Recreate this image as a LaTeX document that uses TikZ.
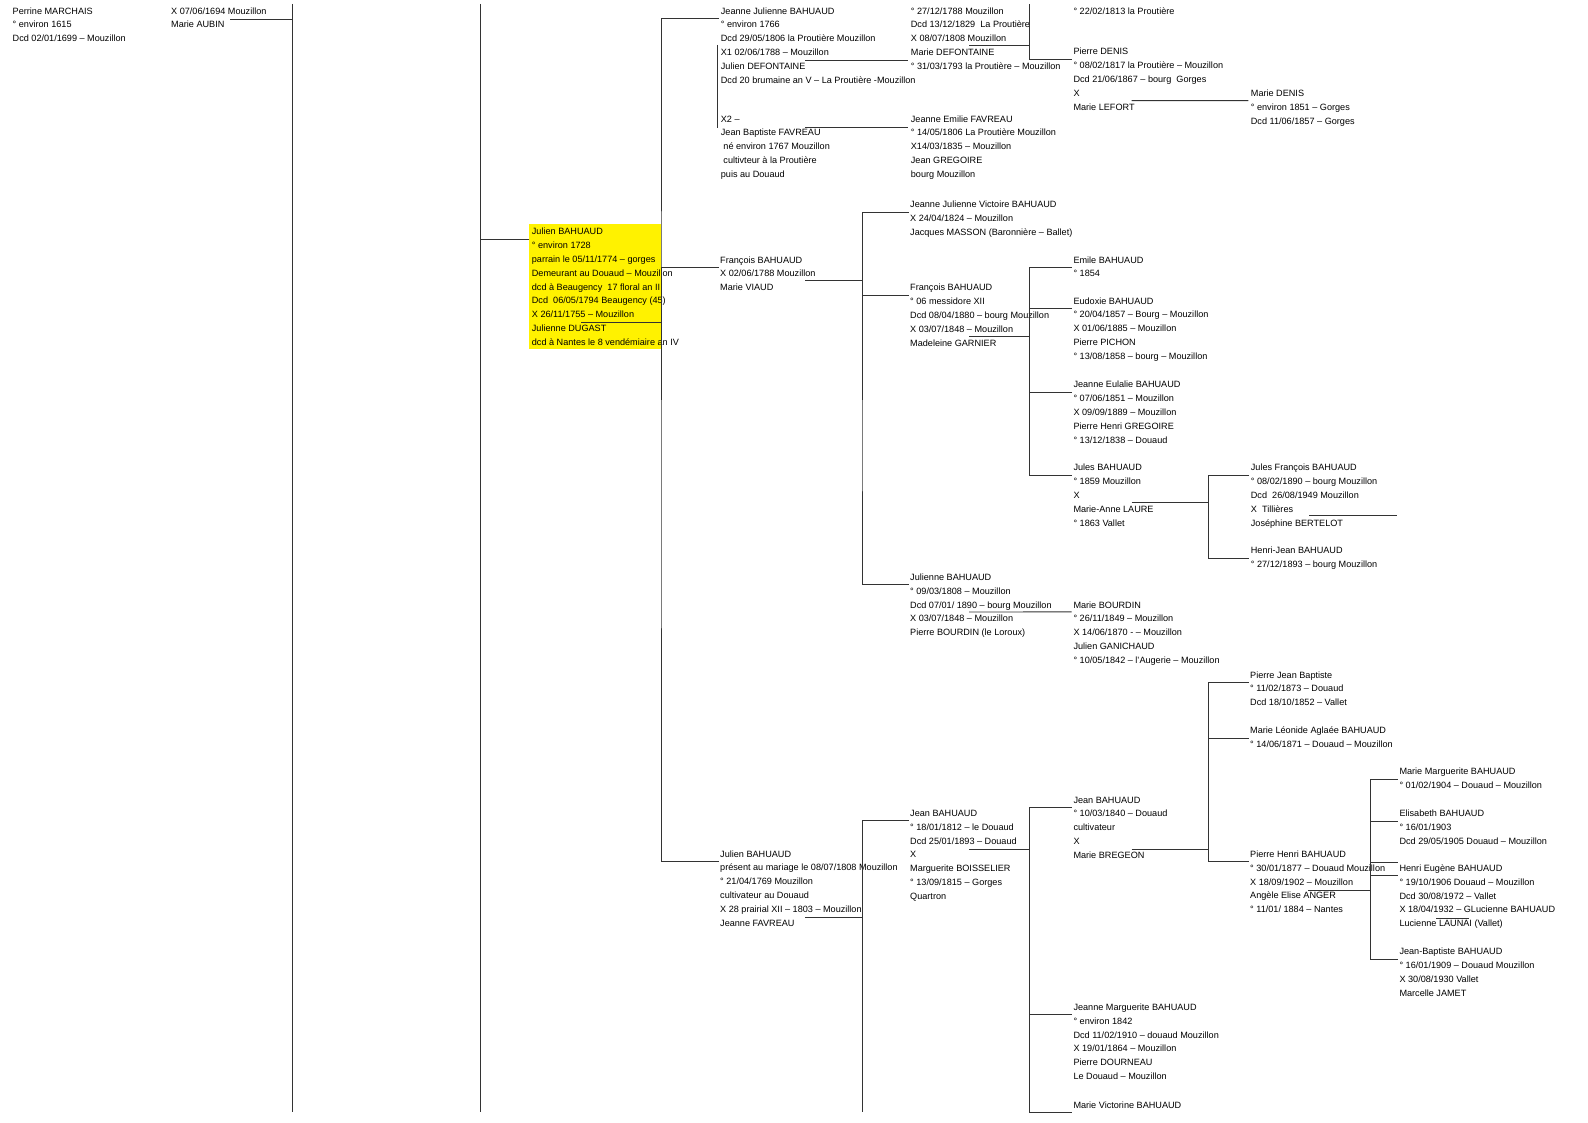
\documentclass[tikz,border=0pt]{standalone}
\usepackage{fontspec}
\setmainfont{Liberation Sans}
\definecolor{hiyellow}{RGB}{255,242,0}

\begin{document}
\begin{tikzpicture}[x=1pt, y=-1pt,
  person/.style={anchor=north west, align=left, inner sep=0pt, font=\fontsize{9.12}{13.8}\selectfont},
  link/.style={draw=black!80, line width=0.9pt}]
  \fill[white] (0,0) rectangle (1588,1123);
  \useasboundingbox (0,0) rectangle (1588,1123);
  \fill[hiyellow] (529.3,224) rectangle (661,349.3);

  \node[person] (perrine) at (12.5,4.3) {\strut Perrine MARCHAIS\\° environ 1615\\Dcd 02/01/1699 – Mouzillon};
  \node[person] (aubin) at (171,4.3) {\strut X 07/06/1694 Mouzillon\\Marie AUBIN};
  \node[person] (julienB) at (531.7,225) {\strut Julien BAHUAUD\\° environ 1728\\parrain le 05/11/1774 – gorges\\Demeurant au Douaud – Mouzillon\\dcd à Beaugency\ \ 17 floral an II\\Dcd\ \ 06/05/1794 Beaugency (45)\\X 26/11/1755 – Mouzillon\\Julienne DUGAST\\dcd à Nantes le 8 vendémiaire an IV};
  \node[person] (jeanneJ) at (720.7,4.3) {\strut Jeanne Julienne BAHUAUD\\° environ 1766\\Dcd 29/05/1806 la Proutière Mouzillon\\X1 02/06/1788 – Mouzillon\\Julien DEFONTAINE\\Dcd 20 brumaine an V – La Proutière -Mouzillon};
  \node[person] (favreauJB) at (720.7,112.3) {\strut X2 –\\Jean Baptiste FAVREAU\\\ né environ 1767 Mouzillon\\\ cultivteur à la Proutière\\puis au Douaud};
  \node[person] (defont) at (910.7,4.3) {\strut ° 27/12/1788 Mouzillon\\Dcd 13/12/1829\ \ La Proutière\\X 08/07/1808 Mouzillon\\Marie DEFONTAINE\\° 31/03/1793 la Proutière – Mouzillon};
  \node[person] (emilie) at (910.7,112.3) {\strut Jeanne Emilie FAVREAU\\° 14/05/1806 La Proutière Mouzillon\\X14/03/1835 – Mouzillon\\Jean GREGOIRE\\bourg Mouzillon};
  \node[person] (prout) at (1073.3,4.3) {\strut ° 22/02/1813 la Proutière};
  \node[person] (pdenis) at (1073.3,45) {\strut Pierre DENIS\\° 08/02/1817 la Proutière – Mouzillon\\Dcd 21/06/1867 – bourg\ \ Gorges\\X\\Marie LEFORT};
  \node[person] (mdenis) at (1250.7,86.6) {\strut Marie DENIS\\° environ 1851 – Gorges\\Dcd 11/06/1857 – Gorges};
  \node[person] (francois1) at (720,253.3) {\strut François BAHUAUD\\X 02/06/1788 Mouzillon\\Marie VIAUD};
  \node[person] (victoire) at (910,198) {\strut Jeanne Julienne Victoire BAHUAUD\\X 24/04/1824 – Mouzillon\\Jacques MASSON (Baronnière – Ballet)};
  \node[person] (francois2) at (910,281) {\strut François BAHUAUD\\° 06 messidore XII\\Dcd 08/04/1880 – bourg Mouzillon\\X 03/07/1848 – Mouzillon\\Madeleine GARNIER};
  \node[person] (emile) at (1073.3,253.3) {\strut Emile BAHUAUD\\° 1854};
  \node[person] (eudoxie) at (1073.3,294.3) {\strut Eudoxie BAHUAUD\\° 20/04/1857 – Bourg – Mouzillon\\X 01/06/1885 – Mouzillon\\Pierre PICHON\\° 13/08/1858 – bourg – Mouzillon};
  \node[person] (eulalie) at (1073.3,378) {\strut Jeanne Eulalie BAHUAUD\\° 07/06/1851 – Mouzillon\\X 09/09/1889 – Mouzillon\\Pierre Henri GREGOIRE\\° 13/12/1838 – Douaud};
  \node[person] (jules) at (1073.3,461) {\strut Jules BAHUAUD\\° 1859 Mouzillon\\X\\Marie-Anne LAURE\\° 1863 Vallet};
  \node[person] (julesF) at (1250.7,461) {\strut Jules François BAHUAUD\\° 08/02/1890 – bourg Mouzillon\\Dcd\ \ 26/08/1949 Mouzillon\\X\ \ Tillières\\Joséphine BERTELOT};
  \node[person] (henriJ) at (1250.7,544) {\strut Henri-Jean BAHUAUD\\° 27/12/1893 – bourg Mouzillon};
  \node[person] (julienne) at (910,570.6) {\strut Julienne BAHUAUD\\° 09/03/1808 – Mouzillon\\Dcd 07/01/ 1890 – bourg Mouzillon\\X 03/07/1848 – Mouzillon\\Pierre BOURDIN (le Loroux)};
  \node[person] (mbourdin) at (1073.3,598.3) {\strut Marie BOURDIN\\° 26/11/1849 – Mouzillon\\X 14/06/1870 - – Mouzillon\\Julien GANICHAUD\\° 10/05/1842 – l'Augerie – Mouzillon};
  \node[person] (pjb) at (1250,668.3) {\strut Pierre Jean Baptiste\\° 11/02/1873 – Douaud\\Dcd 18/10/1852 – Vallet};
  \node[person] (leonide) at (1250,724) {\strut Marie Léonide Aglaée BAHUAUD\\° 14/06/1871 – Douaud – Mouzillon};
  \node[person] (pierreH) at (1250,847.6) {\strut Pierre Henri BAHUAUD\\° 30/01/1877 – Douaud Mouzillon\\X 18/09/1902 – Mouzillon\\Angèle Elise ANGER\\° 11/01/ 1884 – Nantes};
  \node[person] (margM) at (1399.3,765) {\strut Marie Marguerite BAHUAUD\\° 01/02/1904 – Douaud – Mouzillon};
  \node[person] (elisabeth) at (1399.3,807) {\strut Elisabeth BAHUAUD\\° 16/01/1903\\Dcd 29/05/1905 Douaud – Mouzillon};
  \node[person] (henriE) at (1399.3,861.6) {\strut Henri Eugène BAHUAUD\\° 19/10/1906 Douaud – Mouzillon\\Dcd 30/08/1972 – Vallet\\X 18/04/1932 – GLucienne BAHUAUD\\Lucienne LAUNAI (Vallet)};
  \node[person] (jeanB) at (1399.3,945) {\strut Jean-Baptiste BAHUAUD\\° 16/01/1909 – Douaud Mouzillon\\X 30/08/1930 Vallet\\Marcelle JAMET};
  \node[person] (julien1769) at (720,847.3) {\strut Julien BAHUAUD\\présent au mariage le 08/07/1808 Mouzillon\\° 21/04/1769 Mouzillon\\cultivateur au Douaud\\X 28 prairial XII – 1803 – Mouzillon\\Jeanne FAVREAU};
  \node[person] (jean1812) at (910,806.6) {\strut Jean BAHUAUD\\° 18/01/1812 – le Douaud\\Dcd 25/01/1893 – Douaud\\X\\Marguerite BOISSELIER\\° 13/09/1815 – Gorges\\Quartron};
  \node[person] (jean1840) at (1073.3,793.3) {\strut Jean BAHUAUD\\° 10/03/1840 – Douaud\\cultivateur\\X\\Marie BREGEON};
  \node[person] (jeanneM) at (1073.3,1000.6) {\strut Jeanne Marguerite BAHUAUD\\° environ 1842\\Dcd 11/02/1910 – douaud Mouzillon\\X 19/01/1864 – Mouzillon\\Pierre DOURNEAU\\Le Douaud – Mouzillon};
  \node[person] (victorine) at (1073.3,1098.3) {\strut Marie Victorine BAHUAUD};

  \coordinate (b292t) at (292,4); \coordinate (b292b) at (292,1112);
  \coordinate (b480t) at (480,4); \coordinate (b480b) at (480,1112);
  \coordinate (b661) at (661,400);
  \coordinate (b862) at (862,400); \coordinate (b862b) at (862,1112);
  \coordinate (b1029t) at (1029,4); \coordinate (b1029) at (1029,400); \coordinate (b1029b) at (1029,1112);
  \coordinate (b1208) at (1208.3,510); \coordinate (b1208b) at (1208.3,780);
  \coordinate (b1370) at (1370,870);

  \draw[link] (b292t) -- (b292b); \draw[link] (b480t) -- (b480b);
  \draw[link] ([xshift=59pt,yshift=-14.7pt]aubin.north west) -| (b292t);
  \draw[link] ([xshift=-2.4pt,yshift=-14pt]julienB.north west) -| (b480t);
  \draw[link] ([xshift=-1.5pt,yshift=-14pt]jeanneJ.north west) -| (b661) |- ([xshift=-1.5pt,yshift=-14pt]julien1769.north west);
  \draw[link] ([xshift=-1.5pt,yshift=-14pt]francois1.north west) -| (b661);
  \draw[link] ([xshift=49.3pt,yshift=-97.3pt]julienB.north west) -| (b661);
  \draw[link] ([xshift=-3.4pt,yshift=-40.7pt]jeanneJ.north west) -- ([xshift=-3.4pt,yshift=-15.4pt]favreauJB.north west);
  \draw[link] ([xshift=84.3pt,yshift=-55.7pt]jeanneJ.north west) -- ([xshift=-2.4pt,yshift=-55.7pt]defont.north west);
  \draw[link] ([xshift=84.3pt,yshift=-15.4pt]favreauJB.north west) -- ([xshift=-2.4pt,yshift=-15.4pt]emilie.north west);
  \draw[link] ([xshift=58.3pt,yshift=-40.7pt]defont.north west) -| (b1029t);
  \draw[link] ([xshift=-1.5pt,yshift=-14pt]pdenis.north west) -| (b1029t);
  \draw[link] ([xshift=58.4pt,yshift=-55.7pt]pdenis.north west) -- ([xshift=-2.4pt,yshift=-14pt]mdenis.north west);
  \draw[link] ([xshift=-1.5pt,yshift=-14pt]victoire.north west) -| (b862) |- ([xshift=-1.5pt,yshift=-14pt]julienne.north west);
  \draw[link] ([xshift=-1.5pt,yshift=-14pt]francois2.north west) -| (b862);
  \draw[link] ([xshift=85pt,yshift=-27.4pt]francois1.north west) -| (b862);
  \draw[link] ([xshift=-1.5pt,yshift=-14pt]emile.north west) -| (b1029) |- ([xshift=-1.5pt,yshift=-14pt]jules.north west);
  \draw[link] ([xshift=-1.5pt,yshift=-14pt]eudoxie.north west) -| (b1029);
  \draw[link] ([xshift=-1.5pt,yshift=-14pt]eulalie.north west) -| (b1029);
  \draw[link] ([xshift=59.3pt,yshift=-55.7pt]francois2.north west) -| (b1029);
  \draw[link] ([xshift=-1.5pt,yshift=-14pt]julesF.north west) -| (b1208) |- ([xshift=-1.5pt,yshift=-14pt]henriJ.north west);
  \draw[link] ([xshift=58.4pt,yshift=-41.7pt]jules.north west) -| (b1208);
  \draw[link] ([xshift=58.6pt,yshift=-54.7pt]julesF.north west) -- ++(88,0);
  \draw[link] ([xshift=59pt,yshift=-41.4pt]julienne.north west) -- ([xshift=-1.8pt,yshift=-13.6pt]mbourdin.north west);
  \draw[link] ([xshift=-1.5pt,yshift=-14pt]jean1812.north west) -| (b862b);
  \draw[link] ([xshift=85pt,yshift=-70.4pt]julien1769.north west) -| (b862b);
  \draw[link] ([xshift=-1.5pt,yshift=-14pt]jean1840.north west) -| (b1029b);
  \draw[link] ([xshift=-1.5pt,yshift=-14pt]jeanneM.north west) -| (b1029b);
  \draw[link] ([xshift=-1.5pt,yshift=-14pt]victorine.north west) -| (b1029b);
  \draw[link] ([xshift=59.3pt,yshift=-42.4pt]jean1812.north west) -| (b1029b);
  \draw[link] ([xshift=-1.5pt,yshift=-14pt]pjb.north west) -| (b1208b) |- ([xshift=-1.5pt,yshift=-14pt]pierreH.north west);
  \draw[link] ([xshift=-1.5pt,yshift=-14pt]leonide.north west) -| (b1208b);
  \draw[link] ([xshift=58.4pt,yshift=-55.7pt]jean1840.north west) -| (b1208b);
  \draw[link] ([xshift=-1.5pt,yshift=-14pt]margM.north west) -| (b1370) |- ([xshift=-1.5pt,yshift=-14pt]jeanB.north west);
  \draw[link] ([xshift=-1.5pt,yshift=-14pt]elisabeth.north west) -| (b1370);
  \draw[link] ([xshift=-1.5pt,yshift=-14pt]henriE.north west) -| (b1370);
  \draw[link] ([xshift=-1.5pt,yshift=-1pt]henriE.north west) -| (b1370);
  \draw[link] ([xshift=58.3pt,yshift=-42.4pt]pierreH.north west) -| (b1370);
  \draw[link] ([xshift=36.7pt,yshift=-56.7pt]henriE.north west) -- ++(33.3,0);
\end{tikzpicture}
\end{document}
